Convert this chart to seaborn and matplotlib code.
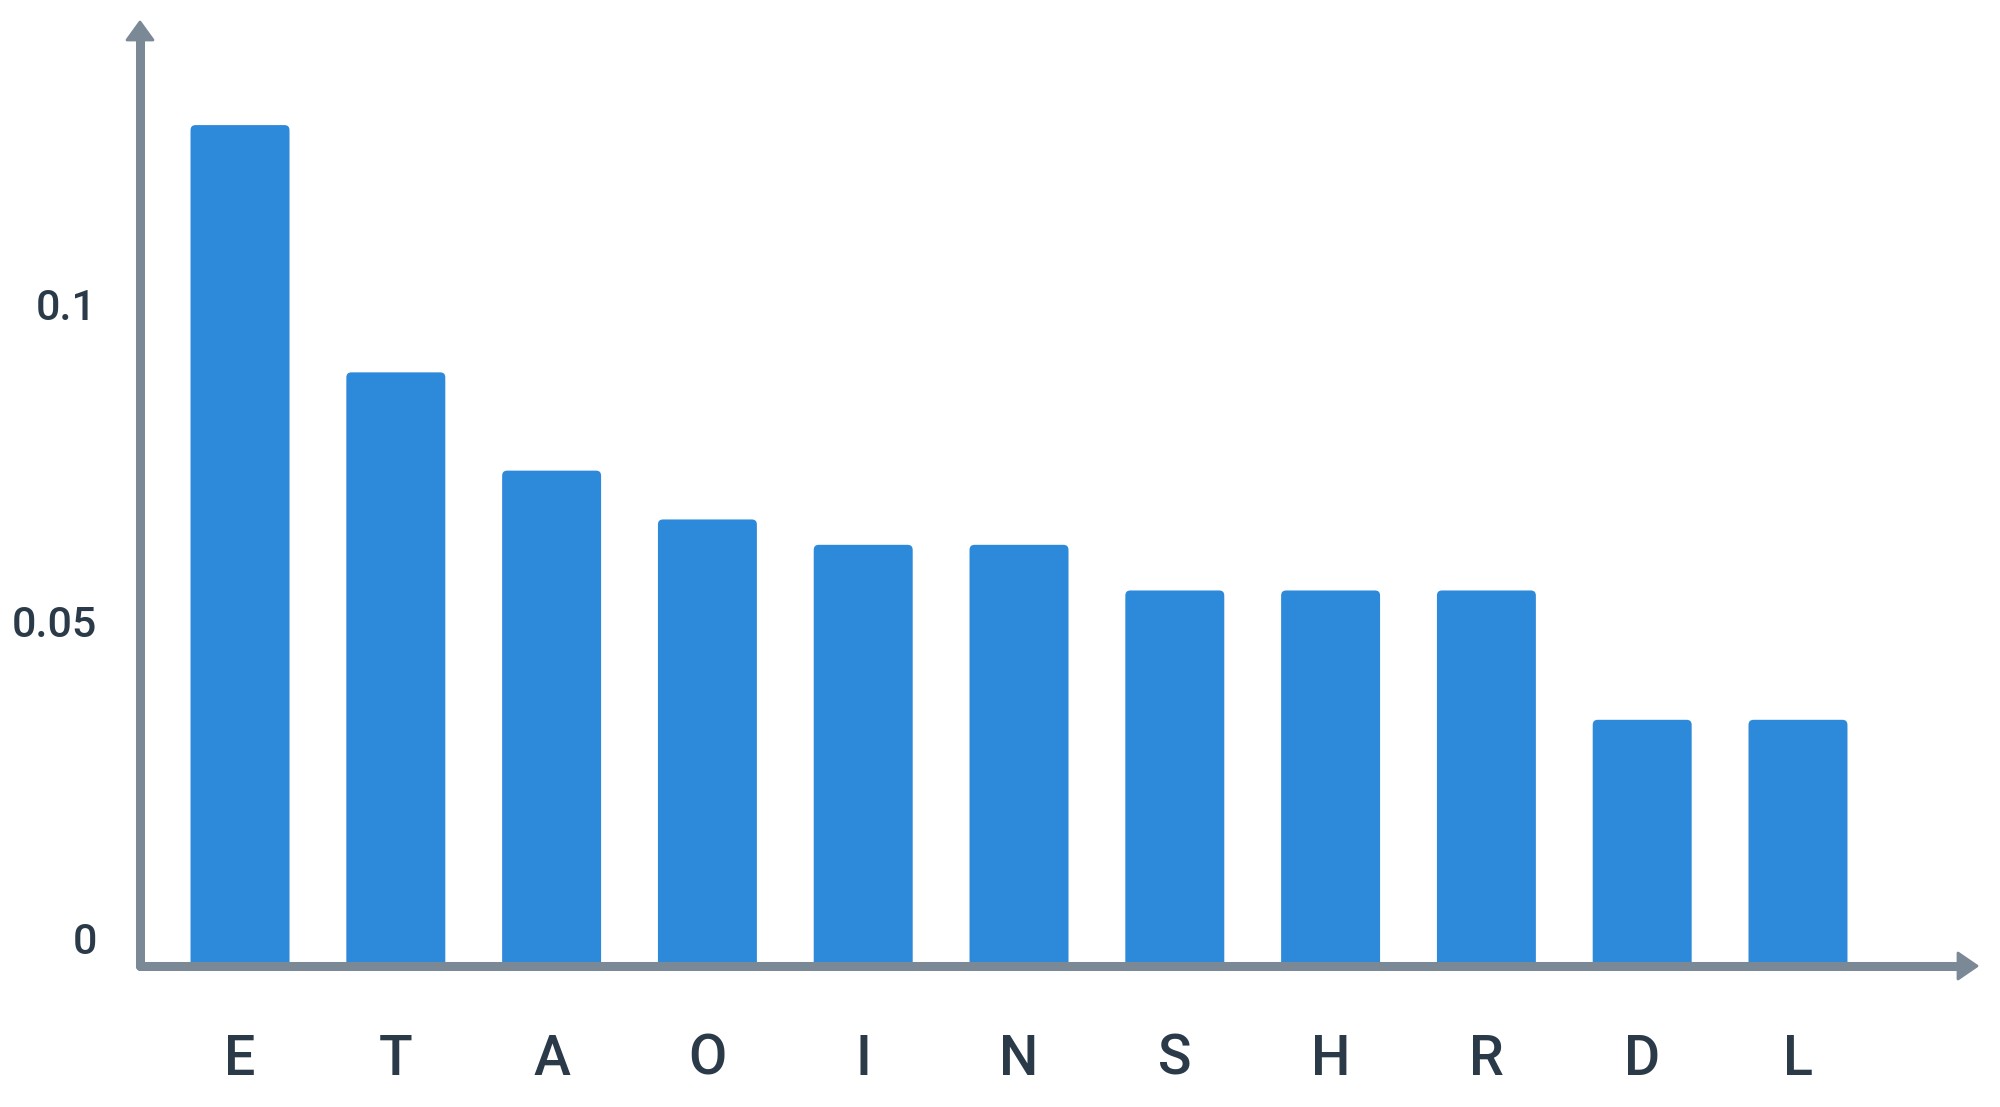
import matplotlib
import matplotlib.patheffects as pe
import matplotlib.pyplot as plt
import matplotlib.transforms as mtransforms
from matplotlib.patches import FancyBboxPatch, Polygon
import pandas as pd
import seaborn as sns

matplotlib.use("Agg")
sns.set_theme(style="white")
plt.rcParams["font.family"] = ["Roboto", "DejaVu Sans"]

# letter frequencies
letters = ["E", "T", "A", "O", "I", "N", "S", "H", "R", "D", "L"]
freq = [0.132, 0.093, 0.0775, 0.0698, 0.0658, 0.0658, 0.0586, 0.0586, 0.0586, 0.0382, 0.0382]
y_ticks = [0, 0.05, 0.1]
y_tick_labels = ["0", "0.05", "0.1"]

BAR = "#2d89d9"
AXIS = "#7b8996"
TEXT = "#2b3a48"
W, H = 2000, 1107

df = pd.DataFrame({"letter": letters, "freq": freq})

fig = plt.figure(figsize=(W / 100, H / 100), dpi=100)
ax = fig.add_axes([140 / W, 1 - 966 / H, (1977 - 140) / W, (966 - 22) / H])
sns.barplot(data=df, x="letter", y="freq", color=BAR, width=0.635, saturation=1, ax=ax, zorder=2)

ax.set_xlim(-0.642, 11.149)
ax.set_ylim(-0.00063, 0.14826)

# swap the plain rectangles for ones with slightly rounded tops
px_x = (11.149 + 0.642) / (1977 - 140)
px_y = (0.14826 + 0.00063) / (966 - 22)
for bar in list(ax.patches):
    x, w, h = bar.get_x(), bar.get_width(), bar.get_height()
    rb = FancyBboxPatch((x, -6 * px_y), w, h + 6 * px_y,
                        boxstyle=f"round,pad=0,rounding_size={5 * px_x}",
                        mutation_aspect=px_y / px_x, facecolor=BAR, edgecolor="none", zorder=2)
    rb.set_path_effects([pe.SimplePatchShadow(offset=(0, -3), shadow_rgbFace="k", alpha=0.06), pe.Normal()])
    bar.remove()
    ax.add_patch(rb)

for s in ax.spines.values():
    s.set_visible(False)
ax.set_xlabel("")
ax.set_ylabel("")
ax.set_yticks(y_ticks, y_tick_labels)
ax.tick_params(axis="y", length=0, pad=31, labelsize=31, labelcolor=TEXT)
ax.tick_params(axis="x", length=0, pad=48, labelsize=40, labelcolor=TEXT)
for lab in ax.get_xticklabels() + ax.get_yticklabels():
    lab.set_fontweight("medium")
offset = mtransforms.ScaledTranslation(0, 0.24, fig.dpi_scale_trans)
for lab in ax.get_yticklabels():
    lab.set_transform(lab.get_transform() + offset)


def fig_xy(px, py):
    return px / W, 1 - py / H


# axis lines with filled arrow heads
tf = fig.transFigure
ax.plot(*zip(fig_xy(140, 966), fig_xy(1962, 966)), color=AXIS, lw=6.5, solid_capstyle="round",
        transform=tf, clip_on=False, zorder=3)
ax.plot(*zip(fig_xy(140, 966), fig_xy(140, 36)), color=AXIS, lw=6.5, solid_capstyle="round",
        transform=tf, clip_on=False, zorder=3)
ax.add_patch(Polygon([fig_xy(1977, 966), fig_xy(1958, 953), fig_xy(1958, 979)], closed=True,
                     facecolor=AXIS, edgecolor=AXIS, lw=2, joinstyle="round",
                     transform=tf, clip_on=False, zorder=3))
ax.add_patch(Polygon([fig_xy(140, 22), fig_xy(127, 40), fig_xy(153, 40)], closed=True,
                     facecolor=AXIS, edgecolor=AXIS, lw=2, joinstyle="round",
                     transform=tf, clip_on=False, zorder=3))

fig.savefig("out.png", dpi=100)
plt.close()
